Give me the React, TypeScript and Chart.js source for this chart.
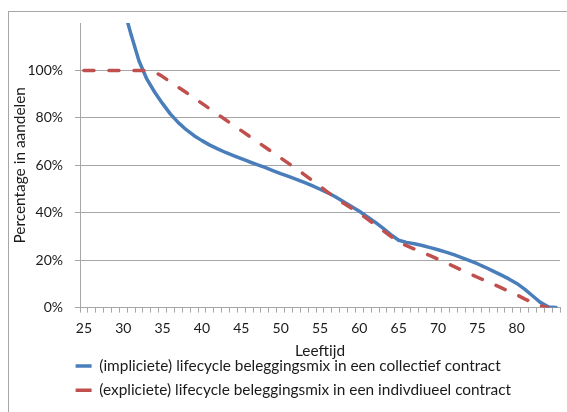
import React, { useEffect, useRef } from "react";
import { Chart, registerables } from "chart.js";

Chart.register(...registerables);

// ---- data ----
const ages: string[] = [
  "25", "26", "27", "28", "29", "30", "31", "32", "33", "34",
  "35", "36", "37", "38", "39", "40", "41", "42", "43", "44",
  "45", "46", "47", "48", "49", "50", "51", "52", "53", "54",
  "55", "56", "57", "58", "59", "60", "61", "62", "63", "64",
  "65", "66", "67", "68", "69", "70", "71", "72", "73", "74",
  "75", "76", "77", "78", "79", "80", "81", "82", "83", "84",
  "85",
];

const xTickLabels: string[] = ["25", "30", "35", "40", "45", "50", "55", "60", "65", "70", "75", "80"];

// (impliciete) lifecycle beleggingsmix in een collectief contract
const collectief: number[] = [
  250, 215, 185, 162, 143, 127, 115, 104, 96.3, 90.8,
  86, 81.6, 78, 75, 72.5, 70.4, 68.5, 66.9, 65.4, 64.1,
  62.8, 61.5, 60.3, 59.1, 57.8, 56.5, 55.3, 54.1, 52.8, 51.4,
  49.9, 48.4, 46.6, 44.6, 42.6, 40.6, 38.3, 36, 33.5, 30.8,
  28.4, 27.5, 26.9, 26.2, 25.3, 24.4, 23.4, 22.3, 21.1, 19.8,
  18.5, 17, 15.4, 13.8, 12.1, 10.2, 7.8, 5, 2.2, 0.3,
  0,
];

// (expliciete) lifecycle beleggingsmix in een indivdiueel contract
const individueel: (number | null)[] = [
  100, 100, 100, 100, 100, 100, 100, 100, 100, 99.3,
  97.4, 95.1, 92.9, 90.7, 88.4, 86.1, 83.8, 81.5, 79.2, 76.9,
  74.6, 72.3, 70.0, 67.7, 65.4, 63.1, 60.8, 58.5, 56.1, 53.6,
  51.1, 48.6, 46.3, 44.0, 41.9, 39.8, 37.4, 35.0, 32.5, 30.0,
  27.6, 26.1, 24.7, 23.3, 21.9, 20.4, 18.9, 17.4, 15.8, 14.3,
  12.8, 11.3, 9.9, 8.4, 6.9, 5.4, 3.7, 2.1, 0.8, 0,
  null,
];

const seriesLabels: string[] = [
  "(impliciete) lifecycle beleggingsmix in een collectief contract",
  "(expliciete) lifecycle beleggingsmix in een indivdiueel contract",
];

const yMin = 0;
const yMax = 120;
const yStep = 20;

// ---- styles ----
const FONT = "Lato";
const TEXT = "#1a1a1a";
const GRID = "#a6a6a6";
const BLUE = "#4a7ebb";
const RED = "#c0504d";

const CANVAS_W = 558;
const CANVAS_H = 400;

const TICK_FONT = { family: FONT, size: 14 };
const LABEL_FONT = { family: FONT, size: 15.4 };

const legendShift = {
  id: "legendShift",
  afterLayout(chart: any) {
    if (chart.legend) {
      chart.legend.left = 57.7;
    }
  },
};

export default function App() {
  const canvasRef = useRef<HTMLCanvasElement | null>(null);

  useEffect(() => {
    const canvas = canvasRef.current;
    if (!canvas) return;
    const chart = new Chart(canvas, {
      type: "line",
      data: {
        labels: ages,
        datasets: [
          {
            label: seriesLabels[0],
            data: collectief,
            borderColor: BLUE,
            backgroundColor: BLUE,
            borderWidth: 3.5,
            borderCapStyle: "round",
            borderJoinStyle: "round",
            pointRadius: 0,
            pointHoverRadius: 0,
            tension: 0,
            clip: 0,
            order: 2,
          },
          {
            label: seriesLabels[1],
            data: individueel,
            borderColor: RED,
            backgroundColor: RED,
            borderWidth: 3.5,
            borderDash: [10, 15],
            borderCapStyle: "round",
            borderJoinStyle: "round",
            pointRadius: 0,
            pointHoverRadius: 0,
            tension: 0,
            clip: 0,
            order: 1,
          },
        ],
      },
      options: {
        responsive: false,
        animation: false,
        events: [],
        layout: {
          autoPadding: false,
          padding: { top: 11, right: 7, bottom: 4.1, left: 0 },
        },
        plugins: {
          tooltip: { enabled: false },
          legend: {
            display: true,
            position: "bottom",
            align: "start",
            labels: {
              color: TEXT,
              font: LABEL_FONT,
              usePointStyle: true,
              pointStyle: "line",
              pointStyleWidth: 16,
              padding: 8.9,
              sort: (a: any, b: any) => a.datasetIndex - b.datasetIndex,
            },
          },
        },
        scales: {
          x: {
            type: "category",
            offset: true,
            grid: {
              display: true,
              offset: true,
              drawOnChartArea: false,
              drawTicks: true,
              tickLength: 5,
              color: GRID,
            },
            border: { display: true, color: GRID, width: 1 },
            ticks: {
              autoSkip: false,
              maxRotation: 0,
              minRotation: 0,
              padding: 7,
              color: TEXT,
              font: TICK_FONT,
              callback: (_v: any, i: number) =>
                xTickLabels.includes(ages[i]) ? ages[i] : "",
            },
            title: {
              display: true,
              text: "Leeftijd",
              color: TEXT,
              font: LABEL_FONT,
              padding: { top: 0, bottom: -10.8 },
            },
            afterFit: (scale: any) => {
              scale.height = 41.7;
              scale.paddingLeft = 0;
              scale.paddingRight = 0;
            },
          },
          y: {
            type: "linear",
            min: yMin,
            max: yMax,
            ticks: {
              stepSize: yStep,
              padding: 12,
              color: TEXT,
              font: TICK_FONT,
              callback: (v: any) => (Number(v) >= yMax ? "" : `${v}%`),
            },
            grid: {
              drawTicks: true,
              tickLength: 5,
              color: (ctx: any) =>
                ctx.tick && ctx.tick.value >= yMax ? "rgba(0,0,0,0)" : GRID,
            },
            border: { display: true, color: GRID, width: 1 },
            title: {
              display: true,
              text: "Percentage in aandelen",
              color: TEXT,
              font: LABEL_FONT,
              padding: { top: 2, bottom: 0 },
            },
            afterFit: (scale: any) => {
              scale.width = 71;
              scale.paddingTop = 0;
              scale.paddingBottom = 0;
            },
          },
        },
      },
      plugins: [legendShift],
    } as any);
    return () => chart.destroy();
  }, []);

  return (
    <div
      style={{
        position: "absolute",
        left: 8,
        top: 11,
        width: CANVAS_W,
        height: CANVAS_H,
        borderTop: `1px solid ${GRID}`,
        borderLeft: `1px solid ${GRID}`,
        background: "#fff",
      }}
    >
      <canvas
        ref={canvasRef}
        width={CANVAS_W}
        height={CANVAS_H}
        style={{ display: "block", width: CANVAS_W, height: CANVAS_H }}
      />
    </div>
  );
}
